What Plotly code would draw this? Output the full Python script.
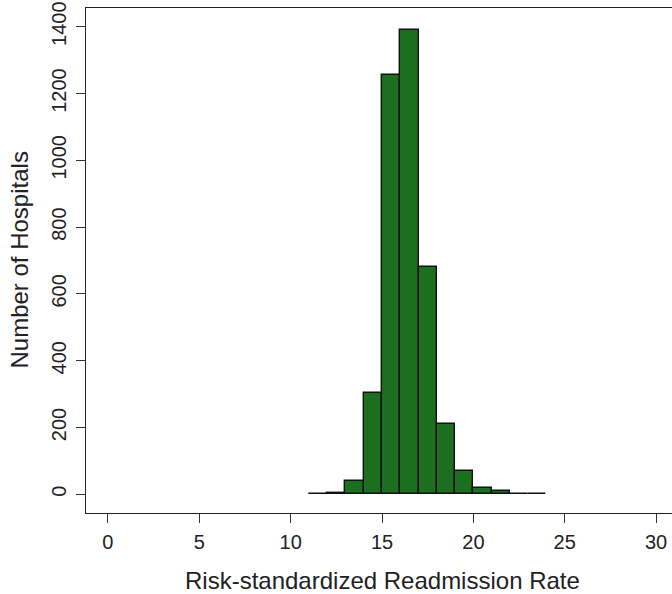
import plotly.graph_objects as go

bin_left = [11, 12, 13, 14, 15, 16, 17, 18, 19, 20, 21, 22, 23]
counts = [0, 4, 41, 304, 1256, 1390, 682, 211, 69, 20, 9, 0, 0]
x_ticks = [0, 5, 10, 15, 20, 25, 30]
y_ticks = [0, 200, 400, 600, 800, 1000, 1200, 1400]
x_title = "Risk-standardized Readmission Rate"
y_title = "Number of Hospitals"

x_centers = [b + 0.5 for b in bin_left]

fig = go.Figure()
fig.add_trace(go.Bar(
    x=x_centers, y=counts, width=[1] * len(counts),
    marker=dict(color="#1B6F1F", line=dict(color="#111111", width=1.4)),
    showlegend=False,
))

font = "Liberation Sans, Arial, sans-serif"
fig.update_layout(
    width=672, height=594,
    margin=dict(l=86, r=0, t=8, b=81, autoexpand=False),
    paper_bgcolor="white", plot_bgcolor="white",
    font=dict(family=font, color="#222222", size=20),
    bargap=0,
    xaxis=dict(
        range=[-1.2, 30.87], tickvals=x_ticks, ticks="outside", ticklen=9,
        tickcolor="#333333", tickwidth=1, showgrid=False, zeroline=False,
        showline=True, linecolor="#222222", linewidth=1.3, mirror=True,
        tickfont=dict(size=20, color="#222222"), ticklabelstandoff=2,
        automargin=False,
    ),
    yaxis=dict(
        range=[-56, 1456], tickvals=y_ticks, ticks="outside", ticklen=9,
        tickcolor="#333333", tickwidth=1, showgrid=False, zeroline=False,
        showline=True, linecolor="#222222", linewidth=1.3,
        tickangle=-90, tickfont=dict(size=20, color="#222222"),
        ticklabelstandoff=2, automargin=False,
    ),
    annotations=[
        dict(text=x_title, xref="x", yref="paper", x=15, y=-0.133,
             xanchor="center", yanchor="middle", showarrow=False,
             font=dict(size=24, color="#222222")),
        dict(text=y_title, xref="paper", yref="paper", x=-0.1143, y=0.5,
             xanchor="center", yanchor="middle", showarrow=False,
             textangle=-90, font=dict(size=24, color="#222222")),
    ],
)

fig.write_html("out.html", config={"displayModeBar": False},
               post_script="document.body.style.margin='0';document.body.style.overflow='hidden';")
